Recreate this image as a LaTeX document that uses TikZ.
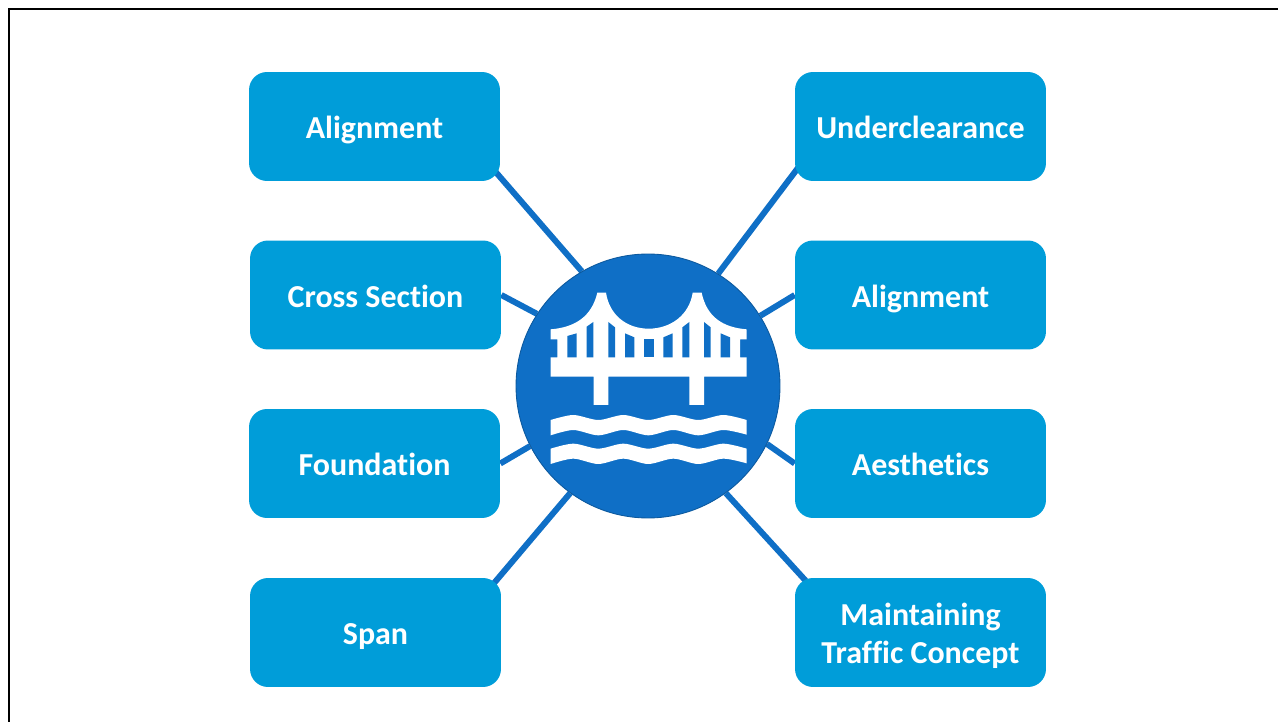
\documentclass[tikz,border=0pt]{standalone}
\usepackage{fontspec}
\setmainfont{Carlito}[Ligatures=NoCommon]
\usetikzlibrary{backgrounds}
\definecolor{hubblue}{HTML}{0F6FC6}
\definecolor{boxblue}{HTML}{009DD9}

\begin{document}
\begin{tikzpicture}[
		x=0.02cm, y=-0.02cm,
		topic/.style={rectangle, rounded corners=0.36cm, fill=boxblue, text=white, align=center, minimum width=5.02cm, minimum height=2.18cm, inner sep=0pt, font=\fontsize{18.2}{22}\selectfont\bfseries, execute at begin node=\rule{0pt}{19pt}, execute at end node=\rule[-5pt]{0pt}{5pt}},
		hub/.style={circle, draw=hubblue!80!black, line width=0.5pt, fill=hubblue, minimum size=5.28cm, inner sep=0pt},
		link/.style={draw=hubblue, line width=0.12cm},
		linkin/.style={link, shorten <=-7pt}
		]
		\useasboundingbox (0,0) rectangle (1278,722);
		\draw[line width=0.05cm] (9,722) -- (9,9) -- (1278,9);
		
		\node[hub] (hub) at (648,386) {};
		
		\foreach \name/\xx/\yy/\txt in {l1/374.5/126.5/Alignment, l2/375.5/295/Cross Section, l3/374.5/463.5/Foundation, l4/375.5/632.5/Span, r1/920.5/126.5/Underclearance, r2/920.5/295/Alignment, r3/920.5/463.5/Aesthetics}
		\node[topic] (\name) at (\xx,\yy) {\txt};
		\node[topic] (r4) at (920.5,632.5) {\rule{0pt}{18.7pt}Maintaining\\Traffic Concept};
		
		\begin{scope}[on background layer]
			\draw[linkin] (l1.-22.6) -- (hub.120.8);
			\draw[link] (l2.east) -- (hub.147);
			\draw[link] (l3.east) -- (hub.207);
			\draw[linkin] (l4.24.5) -- (hub.234.6);
			\draw[linkin] (r1.200.6) -- (hub.58.9);
			\draw[link] (r2.west) -- (hub.32.6);
			\draw[link] (r3.west) -- (hub.-26.8);
			\draw[linkin] (r4.155.3) -- (hub.-54.3);
		\end{scope}
		
		% bridge and water
		\begin{scope}[shift={(510,250)}, scale=0.33333]
			\fill[white] (122,268) -- (122,238) .. controls (195,232) and (245,200) .. (262,128) -- (288,128)
			.. controls (298,195) and (350,236) .. (416,236) .. controls (482,236) and (538,195) .. (548,128) -- (575,128)
			.. controls (590,200) and (637,232) .. (710,238) -- (710,268) -- (690,268) -- (690,322) -- (710,322) -- (710,380)
			-- (582,380) -- (582,465) -- (538,465) -- (538,380) -- (295,380) -- (295,465) -- (251,465) -- (251,380)
			-- (122,380) -- (122,322) -- (142,322) -- (142,268) -- cycle;
			\foreach \xa/\xb/\ya/\yb in {172/200/258/250, 230/250/230/216, 295/315/216/232, 345/373/250/262, 403/431/266/266, 460/488/262/250, 517/538/232/216, 582/602/216/232, 632/660/250/262}
			\fill[hubblue] (\xa,\ya) -- (\xb,\yb) -- (\xb,322) -- (\xa,322) -- cycle;
			\foreach \dy in {0,86} {
				\begin{scope}[yshift=\dy*-0.02cm]
					\fill[white] plot[smooth] coordinates {(122,510) (190,495) (265,510) (340,495) (415,510) (490,495) (565,510) (640,495) (710,510)}
					-- plot[smooth] coordinates {(710,554) (640,540) (565,556) (490,540) (415,556) (340,540) (265,556) (190,540) (122,556)} -- cycle;
				\end{scope}
			}
		\end{scope}
\end{tikzpicture}
\end{document}
